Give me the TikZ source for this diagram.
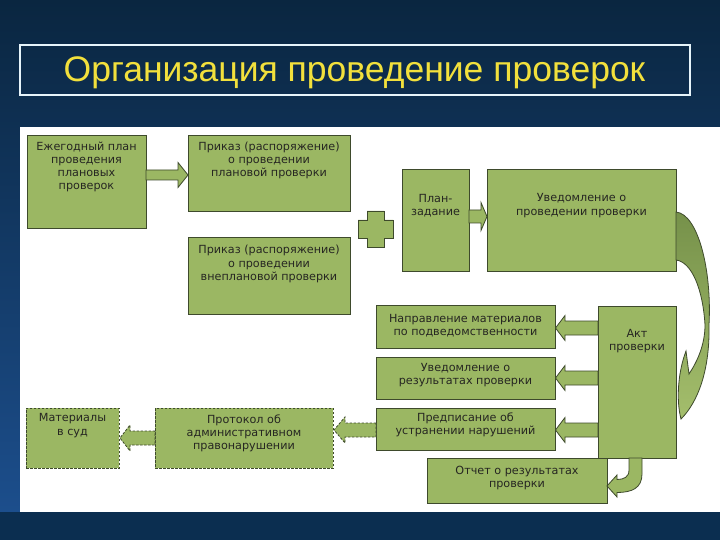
\documentclass[tikz,border=0pt]{standalone}
\usepackage{fontspec}
\newfontfamily\boxfont{DejaVu Sans}
\newfontfamily\titlefont{Liberation Sans}
\definecolor{boxfill}{HTML}{9BB763}
\definecolor{boxborder}{HTML}{3E4A2C}
\definecolor{textcol}{HTML}{262622}
\definecolor{bgtop}{HTML}{0A2640}
\definecolor{bgmid}{HTML}{1C4E8C}
\definecolor{bgbot}{HTML}{0B2E50}
\definecolor{titleyellow}{HTML}{F2E03C}
\definecolor{titleborder}{HTML}{E6F4FA}
\definecolor{curvedark}{HTML}{76914A}
\definecolor{curvelight}{HTML}{A4BE6C}
\newcommand\harrow[7][]{%
  \filldraw[barrow,#1] (#2,#5-#6) -- (#3,#5-#6) -- (#3,#5-#7) -- (#4,#5) -- (#3,#5+#7) -- (#3,#5+#6) -- (#2,#5+#6) -- cycle;}
\begin{document}
\begin{tikzpicture}[x=1pt,y=-1pt,
  box/.style={draw=boxborder,fill=boxfill,line width=0.9pt,inner sep=0pt,anchor=north west},
  dbox/.style={box,dashed,dash pattern=on 2.5pt off 1.5pt},
  txt/.style={font=\boxfont\fontsize{11.2}{13.2}\selectfont,text=textcol,align=center,inner sep=0pt},
  ttl/.style={font=\titlefont\fontsize{35.5}{40}\selectfont,inner sep=0pt,anchor=base},
  barrow/.style={draw=boxborder,fill=boxfill,line width=0.8pt,line join=miter},
  darrow/.style={barrow,dashed,dash pattern=on 2.5pt off 1.5pt}]
\useasboundingbox (0,0) rectangle (720,540);
% background
\shade[top color=bgtop,bottom color=bgmid] (0,0) rectangle (720,512);
\fill[bgbot] (0,512) rectangle (720,540);
\fill[white] (20,127) rectangle (720,512);
% title
\draw[titleborder,line width=1.6pt] (20,45) rectangle (690,95);
\node[ttl,text=titleyellow] (title) at (354.5,82) {Организация проведение проверок};
% boxes
\node[box,minimum width=119pt,minimum height=93pt] (b1) at (27,135) {};
\node[box,minimum width=162pt,minimum height=76pt] (b2) at (188,135) {};
\node[box,minimum width=162pt,minimum height=77pt] (b3) at (188,237) {};
\node[box,minimum width=67pt,minimum height=102pt] (b5) at (402,169) {};
\node[box,minimum width=189pt,minimum height=102pt] (b6) at (487,169) {};
\node[box,minimum width=179pt,minimum height=43pt] (b8) at (376,305) {};
\node[box,minimum width=179pt,minimum height=42pt] (b9) at (376,357) {};
\node[box,minimum width=179pt,minimum height=42pt] (b10) at (376,408) {};
\node[box,minimum width=78pt,minimum height=152pt] (b11) at (598,306) {};
\node[box,minimum width=180pt,minimum height=45pt] (b12) at (427,458) {};
\node[dbox,minimum width=178pt,minimum height=60pt] (b13) at (155,408) {};
\node[dbox,minimum width=93pt,minimum height=60pt] (b14) at (26,408) {};
% texts
\node[txt] (t1) at (86.5,167) {Ежегодный план\\проведения\\плановых\\проверок};
\node[txt] (t2) at (269,160.5) {Приказ (распоряжение)\\о проведении\\плановой проверки};
\node[txt] (t3) at (269,264) {Приказ (распоряжение)\\о проведении\\внеплановой проверки};
\node[txt] (t5) at (435.5,205.5) {План-\\задание};
\node[txt] (t6) at (581.5,205.5) {Уведомление о\\проведении проверки};
\node[txt] (t8) at (465.5,325.5) {Направление материалов\\по подведомственности};
\node[txt] (t9) at (465.5,375) {Уведомление о\\результатах проверки};
\node[txt] (t10) at (465.5,425) {Предписание об\\устранении нарушений};
\node[txt] (t11) at (637,341) {Акт\\проверки};
\node[txt] (t12) at (517,478) {Отчет о результатах\\проверки};
\node[txt] (t13) at (244,433.5) {Протокол об\\административном\\правонарушении};
\node[txt] (t14) at (72.5,425.5) {Материалы\\в суд};
% plus sign
\filldraw[barrow] (367,211) -- (384,211) -- (384,220) -- (393,220) -- (393,238) -- (384,238) -- (384,247) -- (367,247) -- (367,238) -- (358,238) -- (358,220) -- (367,220) -- cycle;
% block arrows
\harrow{146}{178}{188}{175}{5}{12.5}
\harrow{469}{481}{487}{216.5}{6.5}{14}
\harrow{598}{565}{555.5}{328}{7}{12.5}
\harrow{598}{565}{555.5}{378}{7}{12.5}
\harrow{598}{565}{555.5}{430}{7}{12.5}
\harrow[darrow]{376}{345}{334}{430}{7}{13}
\harrow[darrow]{155}{130}{120}{438}{7}{13}
% bent arrow from Akt to report
\filldraw[barrow] (629,458) -- (642,458) -- (642,474) .. controls (642,488) and (632,492.5) .. (617,492.5) -- (617,497) -- (607,486) -- (617,475) -- (617,479.5) .. controls (624,479.5) and (629,477) .. (629,470) -- cycle;
% big curved arrow
\shade[top color=curvedark,bottom color=curvelight,draw=boxborder,line width=0.8pt]
  (676,212) .. controls (698,214) and (712,270) .. (709,325)
  .. controls (710,370) and (698,402) .. (681,419)
  .. controls (676,400) and (678,372) .. (686,351)
  -- (689,374)
  .. controls (697,362) and (705,345) .. (705,325)
  .. controls (703,290) and (692,262) .. (676,260) -- cycle;
\end{tikzpicture}
\end{document}
